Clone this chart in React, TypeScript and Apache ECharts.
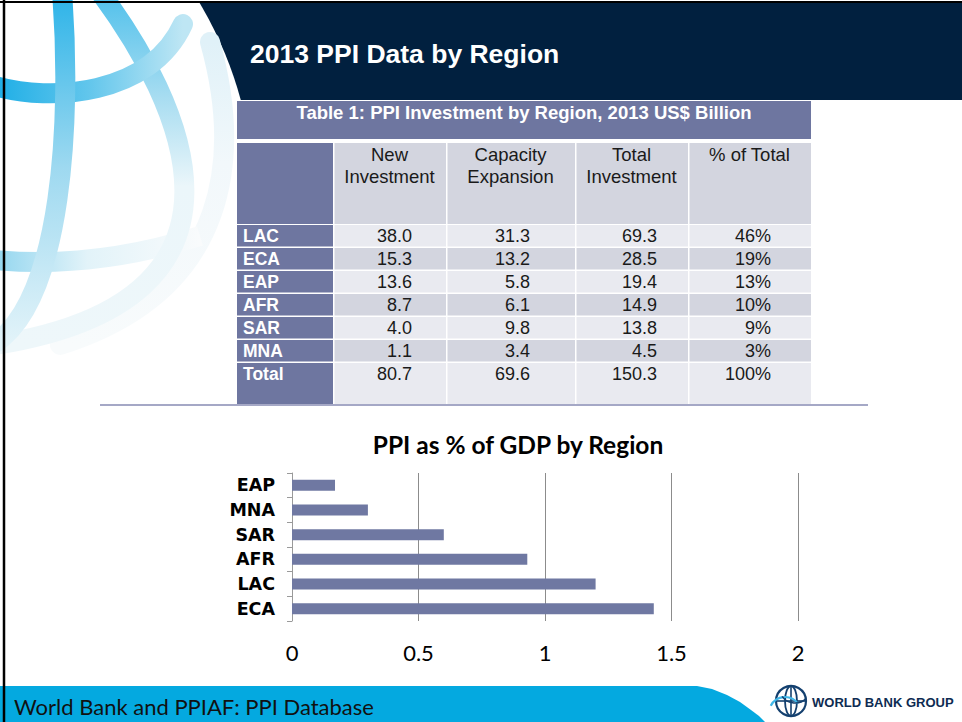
import React, { useEffect, useRef } from 'react';
import * as echarts from 'echarts';

// ---------- data ----------
const slideTitle = '2013 PPI Data by Region';
const tableTitle = 'Table 1: PPI Investment by Region, 2013 US$ Billion';
const tableHeaders = ['New\nInvestment', 'Capacity\nExpansion', 'Total\nInvestment', '% of Total'];
const tableRegions = ['LAC', 'ECA', 'EAP', 'AFR', 'SAR', 'MNA', 'Total'];
const newInvestment = [38.0, 15.3, 13.6, 8.7, 4.0, 1.1, 80.7];
const capacityExpansion = [31.3, 13.2, 5.8, 6.1, 9.8, 3.4, 69.6];
const totalInvestment = [69.3, 28.5, 19.4, 14.9, 13.8, 4.5, 150.3];
const pctOfTotal = [46, 19, 13, 10, 9, 3, 100];

const chartTitle = 'PPI as % of GDP by Region';
const gdpRegions = ['ECA', 'LAC', 'AFR', 'SAR', 'MNA', 'EAP'];
const gdpShare = [1.43, 1.2, 0.93, 0.6, 0.3, 0.17];

const footerText = 'World Bank and PPIAF: PPI Database';
const logoText = 'WORLD BANK GROUP';

// ---------- layout / style ----------
const PURPLE = '#6E76A0';
const CELL_DARK = '#D3D5DF';
const CELL_LIGHT = '#E9EAF0';
const NAVY = '#01203F';
const ARIAL = '"Liberation Sans", Arial, sans-serif';
const GILL = 'Lato, "Open Sans", sans-serif';
const GILL_BOLD_WIDE = '"DejaVu Sans", Lato, sans-serif';

const colX = [237, 333, 446, 575, 688, 811];
const numRight = [412, 530, 657, 771];
const rowTop0 = 225;
const rowH = 23;

function buildTable(): any[] {
  const els: any[] = [];
  els.push({ type: 'rect', shape: { x: colX[0], y: 101, width: colX[5] - colX[0], height: 38 }, style: { fill: PURPLE } });
  els.push({
    type: 'text', x: (colX[0] + colX[5]) / 2, y: 112,
    style: { text: tableTitle, fill: '#fff', font: `bold 18.5px ${ARIAL}`, textAlign: 'center', textVerticalAlign: 'middle' },
  });
  for (let c = 0; c < 5; c++) {
    const x0 = colX[c] + (c > 0 ? 1.5 : 0);
    els.push({ type: 'rect', shape: { x: x0, y: 143, width: colX[c + 1] - x0, height: 81 }, style: { fill: c === 0 ? PURPLE : CELL_DARK } });
    if (c > 0) {
      els.push({
        type: 'text', x: (colX[c] + colX[c + 1]) / 2, y: 143,
        style: { text: tableHeaders[c - 1], fill: '#1a1a1a', font: `18.5px ${ARIAL}`, textAlign: 'center', textVerticalAlign: 'top', lineHeight: 22 },
      });
    }
  }
  const cols = [newInvestment, capacityExpansion, totalInvestment, pctOfTotal];
  tableRegions.forEach((reg, r) => {
    const top = rowTop0 + r * rowH;
    const h = r === tableRegions.length - 1 ? 41 : rowH - 1.5;
    const fill = r % 2 === 0 ? CELL_LIGHT : CELL_DARK;
    for (let c = 0; c < 5; c++) {
      const x0 = colX[c] + (c > 0 ? 1.5 : 0);
      els.push({ type: 'rect', shape: { x: x0, y: top, width: colX[c + 1] - x0, height: h }, style: { fill: c === 0 ? PURPLE : fill } });
    }
    els.push({
      type: 'text', x: 243, y: top + 11,
      style: { text: reg, fill: '#fff', font: `bold 17.5px ${ARIAL}`, textAlign: 'left', textVerticalAlign: 'middle' },
    });
    cols.forEach((arr, k) => {
      const v = arr[r];
      const txt = k === 3 ? `${v}%` : v.toFixed(1);
      els.push({
        type: 'text', x: numRight[k], y: top + 11,
        style: { text: txt, fill: '#1a1a1a', font: `18px ${ARIAL}`, textAlign: 'right', textVerticalAlign: 'middle' },
      });
    });
  });
  return els;
}

function grad(x: number, y: number, x2: number, y2: number, stops: [number, string][]) {
  return new echarts.graphic.LinearGradient(x, y, x2, y2, stops.map(([offset, color]) => ({ offset, color })));
}

function buildDecor(): any[] {
  const els: any[] = [];
  els.push({ type: 'rect', shape: { x: 0, y: 3, width: 962, height: 97 }, style: { fill: NAVY } });
  els.push({ type: 'circle', shape: { cx: -130, cy: 200, r: 384 }, style: { fill: '#fff' } });
  const lw = 20;
  // faint outer arc
  els.push({ type: 'bezierCurve', shape: { x1: 210, y1: 42, cpx1: 240, cpy1: 150, cpx2: 235, cpy2: 290, x2: 60, y2: 345 },
    style: { stroke: grad(0, 0, 0, 1, [[0, '#E0F1F8'], [0.4, '#F2F8FB'], [1, '#F8FBFC']]), lineWidth: lw, lineCap: 'round', fill: null } });
  // lower latitude
  els.push({ type: 'bezierCurve', shape: { x1: -5, y1: 260, cpx1: 60, cpy1: 266, cpx2: 130, cpy2: 258, x2: 200, y2: 236 },
    style: { stroke: grad(0, 0, 1, 0, [[0, '#93D6EF'], [0.45, '#E2F3F9'], [1, '#F9FBFC']]), lineWidth: lw, lineCap: 'butt', fill: null } });
  // meridian 2 / outline
  els.push({ type: 'bezierCurve', shape: { x1: 100, y1: -8, cpx1: 180, cpy1: 100, cpx2: 280, cpy2: 300, x2: -5, y2: 345 },
    style: { stroke: grad(0, 0, 0, 1, [[0, '#4FC0EB'], [0.3, '#A8DDF1'], [0.55, '#EBF6FA'], [1, '#EEF7FA']]), lineWidth: lw, lineCap: 'butt', fill: null } });
  // equator
  els.push({ type: 'bezierCurve', shape: { x1: -5, y1: 86, cpx1: 50, cpy1: 102, cpx2: 150, cpy2: 96, x2: 183, y2: 24 },
    style: { stroke: grad(0, 0, 1, 0, [[0, '#1EAEE6'], [0.5, '#62C6EC'], [1, '#BEE6F4']]), lineWidth: lw, lineCap: 'round', fill: null } });
  // meridian 1
  els.push({ type: 'bezierCurve', shape: { x1: 62, y1: -8, cpx1: 72, cpy1: 120, cpx2: 62, cpy2: 300, x2: -5, y2: 343 },
    style: { stroke: grad(0, 0, 0, 1, [[0, '#2BB3E8'], [0.5, '#9ED9F0'], [1, '#E2F3F9']]), lineWidth: lw, lineCap: 'butt', fill: null } });
  // slide title
  els.push({ type: 'text', x: 250, y: 54, style: { text: slideTitle, fill: '#fff', font: `bold 26.5px ${ARIAL}`, textVerticalAlign: 'middle' } });
  // separator line
  els.push({ type: 'line', shape: { x1: 100, y1: 405, x2: 868, y2: 405 }, style: { stroke: '#A5A8C6', lineWidth: 2 } });
  // chart title
  els.push({ type: 'text', x: 518, y: 444, style: { text: chartTitle, fill: '#000', font: `bold 24.5px ${GILL}`, textAlign: 'center', textVerticalAlign: 'middle' } });
  // footer
  els.push({ type: 'polygon', shape: { points: [[0, 686], [697, 686], [712, 689], [727, 695], [740, 702], [751, 710], [759, 716], [765, 722], [0, 722]] }, style: { fill: '#04A9E0' } });
  els.push({ type: 'text', x: 14, y: 706, style: { text: footerText, fill: '#111', font: `22px ${GILL}`, textVerticalAlign: 'middle' } });
  // logo icon
  const cx = 791, cy = 701, r = 15;
  els.push({ type: 'circle', shape: { cx, cy, r }, style: { fill: '#fff', stroke: '#14406F', lineWidth: 2.2 } });
  els.push({ type: 'ellipse', shape: { cx, cy, rx: 6, ry: r }, style: { fill: null, stroke: '#14406F', lineWidth: 1.8 } });
  els.push({ type: 'line', shape: { x1: cx, y1: cy - r, x2: cx, y2: cy + r }, style: { stroke: '#14406F', lineWidth: 1.6 } });
  els.push({ type: 'line', shape: { x1: cx - r, y1: cy, x2: cx + r, y2: cy }, style: { stroke: '#14406F', lineWidth: 1.6 } });
  els.push({ type: 'arc', shape: { cx: cx - 6, cy: cy + 12, r: 16, startAngle: -Math.PI * 0.85, endAngle: -Math.PI * 0.2 }, style: { fill: null, stroke: '#3FB7E8', lineWidth: 2.2 } });
  els.push({ type: 'arc', shape: { cx: cx + 4, cy: cy - 14, r: 16, startAngle: Math.PI * 0.25, endAngle: Math.PI * 0.8 }, style: { fill: null, stroke: '#14406F', lineWidth: 1.6 } });
  els.push({ type: 'text', x: 812, y: 702, style: { text: logoText, fill: '#0E2C52', font: `bold 13px ${ARIAL}`, textVerticalAlign: 'middle' } });
  // slide border
  els.push({ type: 'line', shape: { x1: 4, y1: 0, x2: 4, y2: 722 }, style: { stroke: '#000', lineWidth: 2.5 } });
  els.push({ type: 'line', shape: { x1: 0, y1: 2, x2: 962, y2: 2 }, style: { stroke: '#000', lineWidth: 2 } });
  return els;
}

export default function App() {
  const ref = useRef<HTMLDivElement>(null);
  useEffect(() => {
    if (!ref.current) return;
    const chart = echarts.init(ref.current, null, { renderer: 'svg' });
    const option: any = {
      animation: false,
      backgroundColor: '#ffffff',
      grid: { left: 292, right: 164, top: 473, bottom: 101, containLabel: false },
      xAxis: {
        type: 'value', min: 0, max: 2, interval: 0.5,
        axisLine: { show: false }, axisTick: { show: false },
        splitLine: { show: true, lineStyle: { color: '#8c8c8c', width: 1 } },
        axisLabel: { color: '#000', fontSize: 22, fontFamily: GILL, margin: 20 },
      },
      yAxis: {
        type: 'category', data: gdpRegions,
        axisLine: { show: true, lineStyle: { color: '#9a9a9a', width: 1 } },
        axisTick: { show: true, length: 5, lineStyle: { color: '#9a9a9a' } },
        axisLabel: { color: '#000', fontWeight: 'bold', fontSize: 17.5, fontFamily: GILL_BOLD_WIDE, margin: 17 },
      },
      series: [{ type: 'bar', data: gdpShare, barWidth: 11, itemStyle: { color: '#6F78A2' } }],
      graphic: [...buildDecor(), ...buildTable()],
    };
    chart.setOption(option);
    return () => chart.dispose();
  }, []);
  return <div ref={ref} style={{ position: 'absolute', left: 0, top: 0, width: 962, height: 722 }} />;
}
